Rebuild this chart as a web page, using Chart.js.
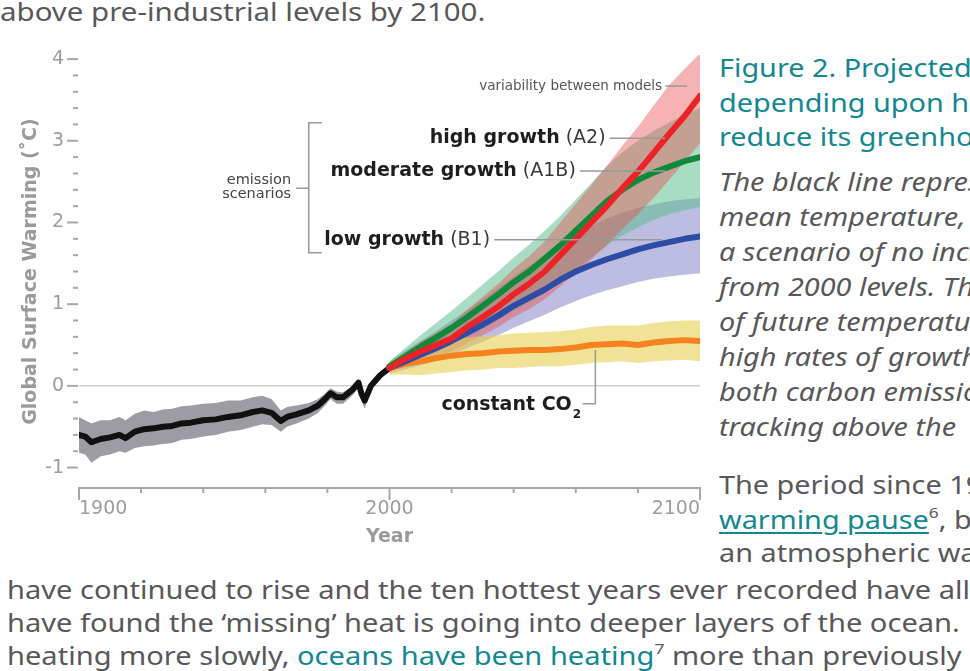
<!DOCTYPE html>
<html lang="en">
<head>
<meta charset="UTF-8">
<title>Projected global warming</title>
<script src="https://cdn.jsdelivr.net/npm/chart.js"></script>
<style>
  body { margin: 0; width: 970px; height: 671px; overflow: hidden; position: relative; background: #fff;
         font-family: "Noto Sans", "Open Sans", sans-serif; }
  #warming { position: absolute; left: 0; top: 0; }
  .t { position: absolute; white-space: nowrap; font-size: 25.5px; line-height: 35px; color: #58585a;
       transform-origin: 0 0; transform: scaleX(1.13); }
  .wide { transform: scaleX(1.14); }
  .top { transform: scaleX(1.155); }
  .teal { color: #138891; }
  .it { font-style: italic; }
  .link { color: #138891; text-decoration: underline; text-underline-offset: 3px; }
  sup { font-size: 60%; line-height: 0; vertical-align: 0.7em; }
</style>
</head>
<body>
<div class="t top" style="left:0;top:-6px">above pre-industrial levels by 2100.</div>

<canvas id="warming" width="710" height="560"></canvas>

<div class="t teal" style="left:719px;top:50px">Figure 2. Projected temperature rise</div>
<div class="t teal" style="left:719px;top:85px">depending upon how the world acts to</div>
<div class="t teal" style="left:719px;top:119px">reduce its greenhouse gas emissions.</div>
<div class="t it" style="left:719px;top:164px">The black line represents the observed</div>
<div class="t it" style="left:719px;top:199px">mean temperature, the orange line</div>
<div class="t it" style="left:719px;top:234px">a scenario of no increase in emissions</div>
<div class="t it" style="left:719px;top:269px">from 2000 levels. The range</div>
<div class="t it" style="left:719px;top:304px">of future temperatures</div>
<div class="t it" style="left:719px;top:339px">high rates of growth</div>
<div class="t it" style="left:719px;top:374px">both carbon emissions</div>
<div class="t it" style="left:719px;top:409px">tracking above the</div>
<div class="t" style="left:719px;top:467px">The period since 1998</div>
<div class="t" style="left:719px;top:502px"><span class="link">warming pause</span><sup>6</sup>, but</div>
<div class="t" style="left:719px;top:535px">an atmospheric warming</div>
<div class="t wide" style="left:7px;top:572px">have continued to rise and the ten hottest years ever recorded have all</div>
<div class="t wide" style="left:7px;top:605px">have found the ‘missing’ heat is going into deeper layers of the ocean.</div>
<div class="t wide" style="left:7px;top:638px">heating more slowly, <span class="teal">oceans have been heating</span><sup>7</sup> more than previously</div>

<script>
// observed record, 1900-2000 (deg C relative to 1980-99)
const histYears = [1900, 1902, 1904, 1907, 1910, 1913, 1915, 1918, 1921, 1924, 1927, 1930, 1933, 1936, 1940, 1944, 1948, 1952, 1956, 1959, 1962, 1965, 1967, 1970, 1974, 1977, 1979, 1981, 1983, 1985, 1988, 1990, 1991, 1992, 1994, 1997, 2000];
const histMean = [-0.60, -0.62, -0.69, -0.65, -0.63, -0.60, -0.64, -0.56, -0.53, -0.52, -0.50, -0.49, -0.46, -0.45, -0.42, -0.41, -0.38, -0.36, -0.32, -0.30, -0.33, -0.43, -0.38, -0.35, -0.30, -0.24, -0.17, -0.09, -0.14, -0.14, -0.05, 0.04, -0.10, -0.18, 0.00, 0.13, 0.22];
const histHigh = [-0.38, -0.42, -0.46, -0.42, -0.42, -0.38, -0.42, -0.34, -0.30, -0.32, -0.29, -0.28, -0.25, -0.24, -0.22, -0.21, -0.18, -0.18, -0.14, -0.12, -0.16, -0.30, -0.26, -0.24, -0.21, -0.16, -0.10, -0.03, -0.07, -0.08, 0.00, 0.08, -0.05, -0.12, 0.04, 0.16, 0.25];
const histLow = [-0.82, -0.84, -0.94, -0.86, -0.84, -0.80, -0.82, -0.76, -0.74, -0.73, -0.71, -0.70, -0.66, -0.65, -0.62, -0.60, -0.56, -0.54, -0.50, -0.47, -0.48, -0.56, -0.50, -0.46, -0.40, -0.33, -0.25, -0.16, -0.22, -0.22, -0.12, -0.02, -0.18, -0.28, -0.06, 0.09, 0.18];

// model projections, 2000-2100
const scenYears = [2000, 2005, 2010, 2015, 2020, 2025, 2030, 2035, 2040, 2045, 2050, 2055, 2060, 2065, 2070, 2075, 2080, 2085, 2090, 2095, 2100];
const a2Mean = [0.22, 0.33, 0.42, 0.50, 0.58, 0.72, 0.84, 0.97, 1.12, 1.25, 1.40, 1.60, 1.80, 2.00, 2.20, 2.42, 2.62, 2.85, 3.08, 3.30, 3.55];
const a2High = [0.27, 0.41, 0.54, 0.65, 0.76, 0.93, 1.09, 1.25, 1.43, 1.59, 1.77, 2.00, 2.23, 2.46, 2.69, 2.94, 3.17, 3.43, 3.68, 3.88, 4.07];
const a2Low = [0.17, 0.26, 0.31, 0.37, 0.42, 0.52, 0.62, 0.72, 0.84, 0.94, 1.06, 1.22, 1.38, 1.55, 1.72, 1.92, 2.10, 2.30, 2.52, 2.74, 2.97];
const a1bMean = [0.24, 0.36, 0.48, 0.59, 0.71, 0.84, 0.98, 1.12, 1.27, 1.40, 1.56, 1.72, 1.90, 2.08, 2.26, 2.40, 2.52, 2.61, 2.68, 2.75, 2.80];
const a1bHigh = [0.30, 0.46, 0.62, 0.77, 0.92, 1.08, 1.24, 1.40, 1.57, 1.73, 1.90, 2.08, 2.28, 2.48, 2.69, 2.86, 3.00, 3.12, 3.22, 3.32, 3.40];
const a1bLow = [0.18, 0.27, 0.35, 0.42, 0.50, 0.59, 0.70, 0.80, 0.92, 1.02, 1.14, 1.28, 1.42, 1.57, 1.72, 1.84, 1.94, 2.03, 2.10, 2.15, 2.19];
const b1Mean = [0.22, 0.30, 0.38, 0.46, 0.55, 0.65, 0.75, 0.86, 0.98, 1.08, 1.18, 1.30, 1.40, 1.48, 1.55, 1.61, 1.67, 1.72, 1.76, 1.80, 1.83];
const b1High = [0.30, 0.43, 0.55, 0.67, 0.80, 0.93, 1.06, 1.20, 1.34, 1.47, 1.59, 1.72, 1.84, 1.95, 2.05, 2.12, 2.18, 2.22, 2.26, 2.28, 2.30];
const b1Low = [0.15, 0.20, 0.25, 0.31, 0.38, 0.46, 0.54, 0.62, 0.71, 0.79, 0.87, 0.96, 1.04, 1.11, 1.17, 1.22, 1.27, 1.31, 1.34, 1.36, 1.38];
const co2Mean = [0.22, 0.27, 0.30, 0.34, 0.37, 0.39, 0.40, 0.42, 0.43, 0.44, 0.44, 0.45, 0.47, 0.50, 0.51, 0.52, 0.50, 0.53, 0.55, 0.56, 0.55];
const co2High = [0.30, 0.40, 0.47, 0.53, 0.57, 0.59, 0.61, 0.62, 0.64, 0.65, 0.66, 0.67, 0.69, 0.72, 0.74, 0.74, 0.74, 0.77, 0.79, 0.80, 0.80];
const co2Low = [0.14, 0.14, 0.13, 0.15, 0.17, 0.19, 0.20, 0.22, 0.22, 0.23, 0.24, 0.24, 0.26, 0.28, 0.29, 0.30, 0.28, 0.30, 0.31, 0.32, 0.30];

// tick labels
const yearLabels = [1900, 2000, 2100];
const tempLabels = [-1, 0, 1, 2, 3, 4];

// annotation texts, anchored in data units (year, deg C)
const scenarioLabels = [
  { bold: 'high growth', plain: ' (A2)', year: 2069.6, temp: 3.03, lineTo: 2088.8 },
  { bold: 'moderate growth', plain: ' (A1B)', year: 2060.0, temp: 2.63, lineTo: 2088.8 },
  { bold: 'low growth', plain: ' (B1)', year: 2032.4, temp: 1.79, lineTo: 2087.8 }
];

const pts = (xs, ys) => xs.map((x, i) => ({ x, y: ys[i] }));

function bandSets(xs, hi, lo, color, order) {
  const common = { pointRadius: 0, borderWidth: 0, borderColor: 'transparent', tension: 0, clip: false };
  return [
    { ...common, data: pts(xs, hi), fill: '+1', backgroundColor: color, order },
    { ...common, data: pts(xs, lo), fill: false, order }
  ];
}

function meanSet(xs, ys, color, order) {
  return { data: pts(xs, ys), borderColor: color, borderWidth: 6, pointRadius: 0, fill: false,
           tension: 0, borderJoinStyle: 'round', borderCapStyle: 'round', order };
}

const datasets = [
  ...bandSets(histYears, histHigh, histLow, '#9c9da2', 20),
  ...bandSets(scenYears, b1High, b1Low, 'rgba(121,123,193,0.5)', 19),
  ...bandSets(scenYears, a1bHigh, a1bLow, 'rgba(88,188,140,0.52)', 18),
  ...bandSets(scenYears, a2High, a2Low, 'rgba(232,81,81,0.44)', 17),
  ...bandSets(scenYears, co2High, co2Low, 'rgba(232,208,80,0.6)', 16),
  meanSet(histYears, histMean, '#111111', 6),
  meanSet(scenYears, co2Mean, '#f5821f', 5),
  meanSet(scenYears, b1Mean, '#2c4ca6', 4),
  meanSet(scenYears, a1bMean, '#0f8a3a', 3),
  meanSet(scenYears, a2Mean, '#ec2227', 2)
];

const decor = {
  id: 'decor',
  afterDraw(chart) {
    const { ctx, chartArea: area, scales: { x, y } } = chart;
    ctx.save();
    ctx.strokeStyle = '#a8a8a8';
    ctx.lineWidth = 2;
    // temperature tick dashes, every 0.2 degree
    for (let i = -5; i <= 20; i++) {
      const py = y.getPixelForValue(i / 5);
      const major = i % 5 === 0;
      ctx.beginPath();
      ctx.moveTo(area.left - (major ? 12 : 6), py);
      ctx.lineTo(area.left - 1, py);
      ctx.stroke();
    }
    // year ticks, every 20 years
    for (let yr = 1900; yr <= 2100; yr += 20) {
      const px = x.getPixelForValue(yr);
      ctx.beginPath();
      ctx.moveTo(px, area.bottom);
      ctx.lineTo(px, area.bottom + (yr % 100 === 0 ? 12 : 5));
      ctx.stroke();
    }

    const X = v => x.getPixelForValue(v);
    const Y = v => y.getPixelForValue(v);
    ctx.strokeStyle = '#9a9a9a';
    ctx.lineWidth = 1.5;
    ctx.textBaseline = 'middle';

    // scenario labels with leader lines
    const boldFont = 'bold 19px "DejaVu Sans"';
    const plainFont = '19px "DejaVu Sans"';
    scenarioLabels.forEach(l => {
      const right = X(l.year), py = Y(l.temp);
      ctx.font = plainFont;
      const wPlain = ctx.measureText(l.plain).width;
      ctx.font = boldFont;
      const wBold = ctx.measureText(l.bold).width;
      ctx.textAlign = 'left';
      ctx.fillStyle = '#1e1e1e';
      ctx.fillText(l.bold, right - wPlain - wBold, py);
      ctx.font = plainFont;
      ctx.fillStyle = '#3a3a3a';
      ctx.fillText(l.plain, right - wPlain, py);
      ctx.beginPath();
      ctx.moveTo(right + 4, py);
      ctx.lineTo(X(l.lineTo), py);
      ctx.stroke();
    });

    // variability note
    ctx.font = '13.5px "DejaVu Sans"';
    ctx.fillStyle = '#555';
    ctx.textAlign = 'right';
    ctx.fillText('variability between models', X(2087.8), Y(3.67));
    ctx.beginPath();
    ctx.moveTo(X(2088.8), Y(3.67));
    ctx.lineTo(X(2095.8), Y(3.67));
    ctx.stroke();

    // emission scenarios bracket
    ctx.beginPath();
    ctx.moveTo(X(1978.2), Y(3.22));
    ctx.lineTo(X(1974.0), Y(3.22));
    ctx.lineTo(X(1974.0), Y(1.63));
    ctx.lineTo(X(1978.2), Y(1.63));
    ctx.moveTo(X(1974.0), Y(2.42));
    ctx.lineTo(X(1969.9), Y(2.42));
    ctx.stroke();
    ctx.font = '14.5px "DejaVu Sans"';
    ctx.fillStyle = '#444';
    ctx.fillText('emission', X(1968.3), Y(2.52));
    ctx.fillText('scenarios', X(1968.3), Y(2.34));

    // constant CO2 label
    ctx.font = boldFont;
    ctx.fillStyle = '#1e1e1e';
    ctx.textAlign = 'right';
    const coRight = X(2058.7), coY = Y(-0.24);
    ctx.fillText('constant CO', coRight, coY);
    ctx.font = 'bold 12px "DejaVu Sans"';
    ctx.textAlign = 'left';
    ctx.fillText('2', coRight + 1, coY + 9);
    ctx.beginPath();
    ctx.moveTo(X(2062.2), Y(-0.22));
    ctx.lineTo(X(2066.3), Y(-0.22));
    ctx.lineTo(X(2066.3), Y(0.44));
    ctx.stroke();
    ctx.restore();
  }
};

Chart.defaults.font.family = '"DejaVu Sans", sans-serif';

new Chart(document.getElementById('warming'), {
  type: 'line',
  data: { datasets },
  options: {
    responsive: false,
    animation: false,
    events: [],
    layout: { padding: { top: 55, right: 7, left: 0, bottom: 0 } },
    plugins: { legend: { display: false }, tooltip: { enabled: false } },
    scales: {
      x: {
        type: 'linear',
        min: 1900,
        max: 2100,
        afterFit: s => { s.height = 72; },
        grid: { display: false, drawTicks: false },
        border: { display: true, color: '#a8a8a8', width: 2 },
        ticks: {
          stepSize: 20,
          autoSkip: false,
          maxRotation: 0,
          align: 'inner',
          padding: 10,
          color: '#9d9d9d',
          font: { size: 19 },
          callback: v => yearLabels.includes(v) ? String(v) : ''
        },
        title: { display: true, text: 'Year', color: '#9a9a9a', font: { size: 19, weight: 'bold' },
                 padding: { top: 0, bottom: 12 } }
      },
      y: {
        min: -1.25,
        max: 4.05,
        afterFit: s => { s.width = 79; },
        border: { display: false },
        grid: {
          drawTicks: false,
          color: c => Math.abs(c.tick.value) < 1e-6 ? '#cfcfcf' : 'transparent',
          lineWidth: 1.5
        },
        ticks: {
          stepSize: 0.2,
          includeBounds: false,
          autoSkip: false,
          padding: 15,
          color: '#9d9d9d',
          font: { size: 19 },
          callback: v => {
            const r = Math.round(v);
            return Math.abs(v - r) < 1e-6 && tempLabels.includes(r) ? String(r) : '';
          }
        },
        title: { display: true, text: 'Global Surface Warming (˚C)', color: '#9a9a9a',
                 font: { size: 19, weight: 'bold' }, padding: { top: 20, bottom: 0 } }
      }
    }
  },
  plugins: [decor]
});
</script>
</body>
</html>
